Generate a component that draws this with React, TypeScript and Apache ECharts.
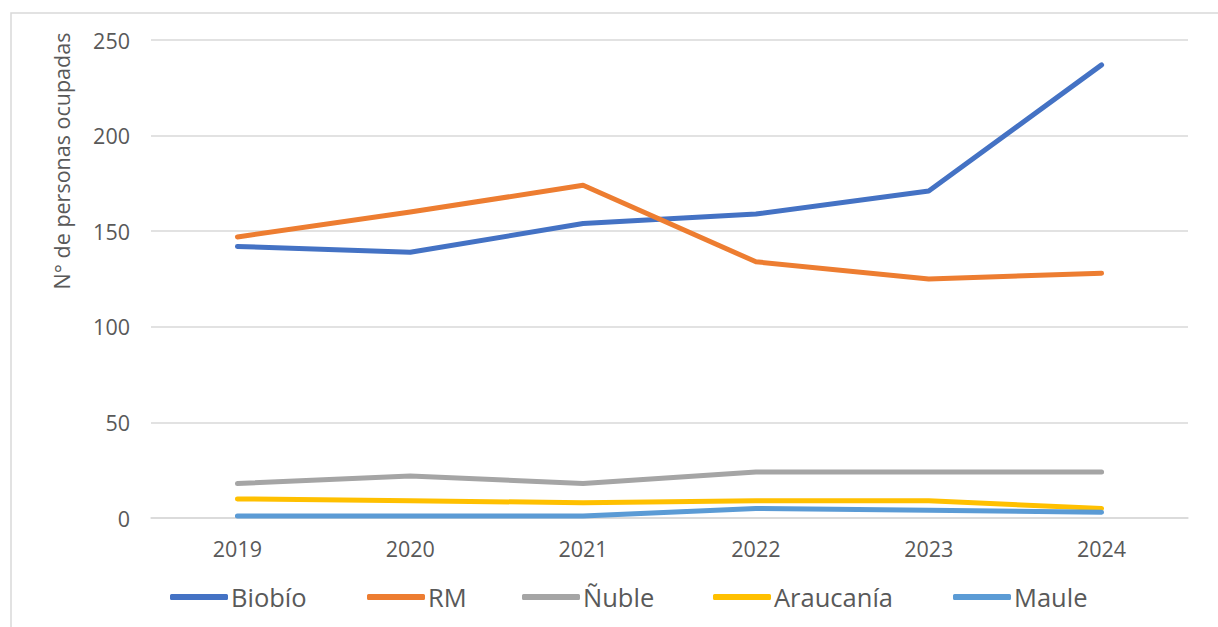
import React, { useEffect, useRef } from "react";
import * as echarts from "echarts";

const years = ["2019", "2020", "2021", "2022", "2023", "2024"];
const biobio = [142, 139, 154, 159, 171, 237];
const rm = [147, 160, 174, 134, 125, 128];
const nuble = [18, 22, 18, 24, 24, 24];
const araucania = [10, 9, 8, 9, 9, 5];
const maule = [1, 1, 1, 5, 4, 3];

const seriesNames = ["Biobío", "RM", "Ñuble", "Araucanía", "Maule"];
const seriesData = [biobio, rm, nuble, araucania, maule];
const colors = ["#4472C4", "#ED7D31", "#A5A5A5", "#FFC000", "#5B9BD5"];
const legendLefts = [170, 367, 522, 713, 953];
const yTitle = "N° de personas ocupadas";

const FONT = "'Open Sans', 'Noto Sans', sans-serif";
const TEXT = "#595959";

export default function App() {
  const ref = useRef<HTMLDivElement>(null);
  useEffect(() => {
    if (!ref.current) return;
    const chart = echarts.init(ref.current, undefined, { renderer: "svg" });
    chart.setOption({
      animation: false,
      backgroundColor: "#ffffff",
      color: colors,
      grid: { left: 151, right: 30, top: 40, bottom: 109, containLabel: false },
      graphic: [
        {
          type: "rect",
          shape: { x: 11, y: 13, width: 1400, height: 800 },
          style: { fill: "none", stroke: "#d9d9d9", lineWidth: 1.5 },
          silent: true,
          z: -10,
        },
        {
          type: "text",
          x: 61,
          y: 161,
          rotation: Math.PI / 2,
          style: {
            text: yTitle,
            fill: TEXT,
            font: `21.5px ${FONT}`,
            textAlign: "center",
            textVerticalAlign: "middle",
          },
          silent: true,
        },
      ],
      xAxis: {
        type: "category",
        data: years,
        boundaryGap: true,
        axisLine: { show: true, lineStyle: { color: "#d9d9d9", width: 1.5 } },
        axisTick: { show: false },
        axisLabel: { color: TEXT, fontFamily: FONT, fontSize: 21.5, margin: 19 },
        splitLine: { show: false },
      },
      yAxis: {
        type: "value",
        min: 0,
        max: 250,
        interval: 50,
        axisLine: { show: false },
        axisTick: { show: false },
        axisLabel: { color: TEXT, fontFamily: FONT, fontSize: 21.5, margin: 21 },
        splitLine: { lineStyle: { color: "#d9d9d9", width: 1.5 } },
      },
      legend: seriesNames.map((n, i) => ({
        data: [{ name: n, icon: "roundRect" }],
        left: legendLefts[i],
        top: 584,
        itemWidth: 58,
        itemHeight: 6,
        itemGap: 4,
        padding: 0,
        textStyle: { color: TEXT, fontFamily: FONT, fontSize: 25.5, padding: [0, 0, 0, -2] },
      })),
      series: seriesNames.map((n, i) => ({
        name: n,
        type: "line",
        data: seriesData[i],
        showSymbol: false,
        symbol: "none",
        smooth: false,
        lineStyle: { width: 5, color: colors[i], cap: "round", join: "round" },
        itemStyle: { color: colors[i] },
      })),
    });
    return () => chart.dispose();
  }, []);
  return (
    <div
      ref={ref}
      style={{ position: "absolute", left: 0, top: 0, width: 1218, height: 627 }}
    />
  );
}
